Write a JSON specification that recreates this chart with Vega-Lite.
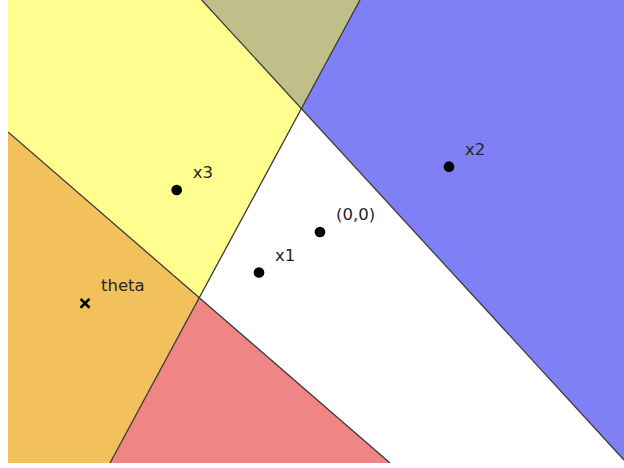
{
  "$schema": "https://vega.github.io/schema/vega-lite/v6.json",
  "width": 616,
  "height": 463,
  "autosize": {"type": "none"},
  "padding": {"left": 8, "top": 0, "right": 0, "bottom": 5},
  "background": "white",
  "config": {"view": {"stroke": null}},
  "datasets": {
    "regions": [
      {"region": "olive", "x": -1.183, "ytop": 2.32, "ybot": 2.32},
      {"region": "olive", "x": -0.185, "ytop": 2.32, "ybot": 1.237},
      {"region": "olive", "x": 0.40, "ytop": 2.32, "ybot": 2.32},
      {"region": "yellow", "x": -3.12, "ytop": 2.32, "ybot": 1.00},
      {"region": "yellow", "x": -1.205, "ytop": 2.32, "ybot": -0.657},
      {"region": "yellow", "x": -1.183, "ytop": 2.32, "ybot": -0.616},
      {"region": "yellow", "x": -0.185, "ytop": 1.237, "ybot": 1.237},
      {"region": "blue", "x": -0.185, "ytop": 1.237, "ybot": 1.237},
      {"region": "blue", "x": 0.40, "ytop": 2.32, "ybot": 0.599},
      {"region": "blue", "x": 3.04, "ytop": 2.32, "ybot": -2.28},
      {"region": "orange", "x": -3.12, "ytop": 1.00, "ybot": -2.31},
      {"region": "orange", "x": -2.10, "ytop": 0.117, "ybot": -2.31},
      {"region": "orange", "x": -1.205, "ytop": -0.657, "ybot": -0.657},
      {"region": "red", "x": -2.10, "ytop": -2.31, "ybot": -2.31},
      {"region": "red", "x": -1.205, "ytop": -0.657, "ybot": -2.31},
      {"region": "red", "x": 0.70, "ytop": -2.31, "ybot": -2.31}
    ],
    "lines": [
      {"x": -1.183, "y": 2.32, "x2": 3.04, "y2": -2.28},
      {"x": 0.40, "y": 2.32, "x2": -2.10, "y2": -2.31},
      {"x": -3.12, "y": 1.00, "x2": 0.70, "y2": -2.31}
    ],
    "points": [
      {"label": "(0,0)", "x": 0.0, "y": 0.0, "kind": "dot"},
      {"label": "x1", "x": -0.61, "y": -0.405, "kind": "dot"},
      {"label": "x2", "x": 1.29, "y": 0.653, "kind": "dot"},
      {"label": "x3", "x": -1.433, "y": 0.42, "kind": "dot"},
      {"label": "theta", "x": -2.35, "y": -0.713, "kind": "cross"}
    ]
  },
  "layer": [
    {
      "data": {"name": "regions"},
      "mark": {"type": "area", "interpolate": "linear", "clip": true},
      "encoding": {
        "x": {"field": "x", "type": "quantitative", "axis": null,
              "scale": {"domain": [-3.12, 3.04], "nice": false, "zero": false}},
        "y": {"field": "ytop", "type": "quantitative", "axis": null, "stack": null,
              "scale": {"domain": [-2.31, 2.32], "nice": false, "zero": false}},
        "y2": {"field": "ybot"},
        "color": {"field": "region", "type": "nominal", "legend": null,
                  "scale": {"domain": ["olive", "yellow", "blue", "orange", "red"],
                            "range": ["#bfbf8a", "#fffe8e", "#7f7ff6", "#f3c15c", "#ef8584"]}}
      }
    },
    {
      "data": {"name": "lines"},
      "mark": {"type": "rule", "color": "#3a3a3a", "strokeWidth": 1.3, "clip": true},
      "encoding": {
        "x": {"field": "x", "type": "quantitative"},
        "y": {"field": "y", "type": "quantitative"},
        "x2": {"field": "x2"},
        "y2": {"field": "y2"}
      }
    },
    {
      "data": {"name": "points"},
      "transform": [{"filter": "datum.kind == 'dot'"}],
      "mark": {"type": "point", "shape": "circle", "filled": true, "color": "black", "size": 115, "opacity": 1},
      "encoding": {
        "x": {"field": "x", "type": "quantitative"},
        "y": {"field": "y", "type": "quantitative"}
      }
    },
    {
      "data": {"name": "points"},
      "transform": [{"filter": "datum.kind == 'cross'"}],
      "mark": {"type": "point", "shape": "M-1,-1L1,1M1,-1L-1,1", "filled": false, "stroke": "black", "strokeWidth": 2.6, "size": 80, "opacity": 1},
      "encoding": {
        "x": {"field": "x", "type": "quantitative"},
        "y": {"field": "y", "type": "quantitative"}
      }
    },
    {
      "data": {"name": "points"},
      "mark": {"type": "text", "align": "left", "baseline": "middle", "dx": 16, "dy": -17, "font": "DejaVu Sans", "fontSize": 16.5, "color": "#262626"},
      "encoding": {
        "x": {"field": "x", "type": "quantitative"},
        "y": {"field": "y", "type": "quantitative"},
        "text": {"field": "label"}
      }
    }
  ]
}
